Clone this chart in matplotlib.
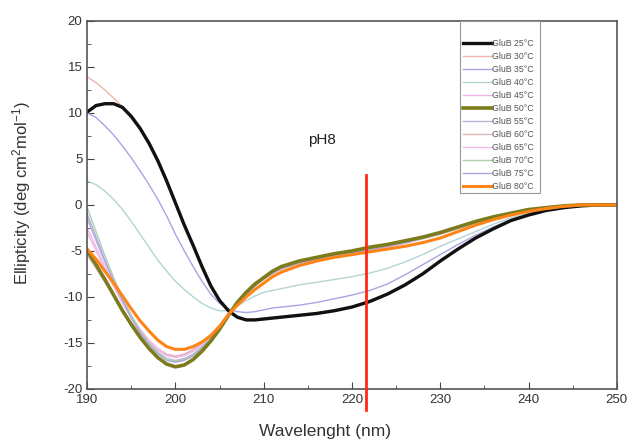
import matplotlib.pyplot as plt
from matplotlib.patches import Rectangle
from matplotlib.ticker import MultipleLocator

plt.rcParams['font.family'] = ['Liberation Sans', 'DejaVu Sans']
plt.rcParams['axes.unicode_minus'] = False
plt.rcParams['mathtext.fontset'] = 'custom'
plt.rcParams['mathtext.rm'] = 'Liberation Sans'
plt.rcParams['mathtext.it'] = 'Liberation Sans:italic'

wl = [190, 191, 192, 193, 194, 195, 196, 197, 198, 199, 200, 201, 202, 203,
      204, 205, 206, 207, 208, 209, 210, 211, 212,
      214, 216, 218, 220, 222, 224, 226, 228, 230, 232, 234, 236, 238, 240,
      242, 244, 246, 248, 250]

t25 = [10.1, 10.8, 11.0, 11.0, 10.6, 9.6, 8.3, 6.7, 4.8, 2.6, 0.2, -2.2, -4.4, -6.7,
       -8.8, -10.4, -11.5, -12.2, -12.5, -12.5, -12.4, -12.3, -12.2,
       -12.0, -11.8, -11.5, -11.1, -10.5, -9.7, -8.7, -7.5, -6.1, -4.8, -3.6, -2.6, -1.7, -1.1,
       -0.6, -0.3, -0.1, 0.0, 0.0]
t30 = [13.9, 13.3, 12.5, 11.6, 10.7, 9.8, 8.5, 6.9, 5.0, 2.8, 0.4, -2.0, -4.2, -6.5,
       -8.6, -10.3, -11.4, -12.1, -12.4, -12.4, -12.3, -12.2, -12.1,
       -11.9, -11.7, -11.4, -11.0, -10.4, -9.6, -8.6, -7.4, -6.0, -4.7, -3.5, -2.5, -1.6, -1.0,
       -0.5, -0.2, 0.0, 0.0, 0.0]
t35 = [10.0, 9.5, 8.6, 7.6, 6.4, 5.1, 3.7, 2.2, 0.6, -1.2, -3.2, -5.0, -6.7, -8.3,
       -9.7, -10.7, -11.3, -11.6, -11.7, -11.6, -11.4, -11.2, -11.1,
       -10.9, -10.6, -10.2, -9.8, -9.3, -8.6, -7.6, -6.5, -5.4, -4.3, -3.3, -2.4, -1.6, -1.0,
       -0.5, -0.2, 0.0, 0.0, 0.0]
t40 = [2.6, 2.2, 1.5, 0.6, -0.5, -1.8, -3.2, -4.6, -6.0, -7.2, -8.3, -9.2, -10.0, -10.7,
       -11.2, -11.5, -11.5, -11.0, -10.4, -9.9, -9.5, -9.3, -9.1,
       -8.7, -8.4, -8.1, -7.8, -7.4, -6.9, -6.2, -5.4, -4.5, -3.7, -2.9, -2.1, -1.4, -0.9,
       -0.5, -0.2, 0.0, 0.0, 0.0]
t45 = [-2.5, -4.6, -6.7, -8.7, -10.5, -12.1, -13.5, -14.7, -15.6, -16.2, -16.4, -16.2, -15.7, -15.0,
       -14.1, -13.1, -11.9, -10.7, -9.6, -8.7, -8.0, -7.4, -6.9,
       -6.3, -5.9, -5.5, -5.2, -4.9, -4.5, -4.1, -3.6, -3.1, -2.5, -1.9, -1.4, -0.9, -0.6,
       -0.3, -0.1, 0.0, 0.0, 0.0]
t50 = [-5.0, -6.5, -8.1, -9.8, -11.5, -13.0, -14.4, -15.6, -16.6, -17.3, -17.6, -17.4, -16.8, -15.9,
       -14.8, -13.5, -12.0, -10.6, -9.5, -8.6, -7.9, -7.2, -6.7,
       -6.1, -5.7, -5.3, -5.0, -4.6, -4.3, -3.9, -3.5, -3.0, -2.4, -1.8, -1.3, -0.9, -0.5,
       -0.3, -0.1, 0.0, 0.0, 0.0]
t55 = [-1.5, -3.9, -6.2, -8.4, -10.4, -12.2, -13.8, -15.1, -16.1, -16.7, -16.9, -16.7, -16.2, -15.4,
       -14.4, -13.2, -11.9, -10.7, -9.6, -8.7, -7.9, -7.3, -6.8,
       -6.2, -5.8, -5.4, -5.1, -4.8, -4.4, -4.0, -3.5, -3.0, -2.4, -1.8, -1.3, -0.9, -0.5,
       -0.3, -0.1, 0.0, 0.0, 0.0]
t60 = [-5.5, -6.9, -8.4, -9.9, -11.4, -12.8, -14.0, -15.0, -15.8, -16.3, -16.5, -16.3, -15.8, -15.1,
       -14.2, -13.1, -11.9, -10.8, -9.7, -8.8, -8.1, -7.5, -7.0,
       -6.4, -6.0, -5.6, -5.3, -5.0, -4.6, -4.2, -3.7, -3.2, -2.6, -2.0, -1.4, -1.0, -0.6,
       -0.3, -0.1, 0.0, 0.0, 0.0]
t65 = [-3.0, -5.0, -7.0, -8.9, -10.7, -12.3, -13.7, -14.9, -15.8, -16.4, -16.6, -16.4, -15.9, -15.2,
       -14.2, -13.1, -11.9, -10.7, -9.7, -8.8, -8.0, -7.4, -6.9,
       -6.3, -5.9, -5.5, -5.2, -4.9, -4.5, -4.1, -3.6, -3.1, -2.5, -1.9, -1.4, -0.9, -0.6,
       -0.3, -0.1, 0.0, 0.0, 0.0]
t70 = [-0.3, -2.9, -5.5, -7.9, -10.1, -12.0, -13.7, -15.0, -16.0, -16.7, -17.0, -16.8, -16.3, -15.5,
       -14.5, -13.3, -12.0, -10.8, -9.7, -8.8, -8.0, -7.4, -6.9,
       -6.2, -5.8, -5.4, -5.1, -4.8, -4.4, -4.0, -3.5, -3.0, -2.4, -1.8, -1.3, -0.9, -0.5,
       -0.3, -0.1, 0.0, 0.0, 0.0]
t75 = [-1.0, -3.5, -6.0, -8.3, -10.4, -12.3, -13.9, -15.2, -16.2, -16.9, -17.1, -16.9, -16.4, -15.6,
       -14.6, -13.4, -12.0, -10.8, -9.7, -8.8, -8.0, -7.4, -6.9,
       -6.3, -5.9, -5.5, -5.2, -4.9, -4.5, -4.1, -3.6, -3.1, -2.5, -1.9, -1.4, -0.9, -0.6,
       -0.3, -0.1, 0.0, 0.0, 0.0]
t80 = [-4.8, -5.9, -7.2, -8.5, -9.9, -11.3, -12.6, -13.7, -14.7, -15.4, -15.7, -15.7, -15.4, -14.9,
       -14.2, -13.2, -11.9, -10.9, -10.0, -9.2, -8.5, -7.8, -7.3,
       -6.6, -6.1, -5.7, -5.4, -5.1, -4.8, -4.5, -4.1, -3.6, -2.9, -2.2, -1.6, -1.1, -0.7,
       -0.4, -0.15, 0.0, 0.0, 0.0]

series = [t25, t30, t35, t40, t45, t50, t55, t60, t65, t70, t75, t80]
labels = ['GluB 25°C', 'GluB 30°C', 'GluB 35°C', 'GluB 40°C', 'GluB 45°C', 'GluB 50°C',
          'GluB 55°C', 'GluB 60°C', 'GluB 65°C', 'GluB 70°C', 'GluB 75°C', 'GluB 80°C']
colors = ['#111111', '#f2b4ac', '#a8a4e4', '#b4d4d4', '#f0b4ec', '#7c7c1c',
          '#b8b4dc', '#dcb8b8', '#f4b8e4', '#acd0ac', '#aca4e0', '#ff8418']
widths = [2.4, 1.0, 1.0, 1.0, 1.0, 2.6, 1.0, 1.0, 1.0, 1.0, 1.0, 2.2]

marker_wl = 221.6
marker_top = 3.2
marker_bottom = -22.3

fig = plt.figure(figsize=(6.32, 4.45), dpi=100)
ax = fig.add_axes([0.138, 0.126, 0.838, 0.827])

# thin curves first, thick ones on top
order = [1, 2, 3, 4, 6, 7, 8, 9, 10, 0, 5, 11]
lines = {}
for i in order:
    ln, = ax.plot(wl, series[i], color=colors[i], lw=widths[i], label=labels[i])
    lines[i] = ln

ax.plot([marker_wl, marker_wl], [marker_top, marker_bottom], color='#ff2a10', lw=2.0,
        clip_on=False, zorder=5)
ax.text(216.6, 7.1, 'pH8', fontsize=11, ha='center', va='center', color='#222222')

ax.set_xlim(190, 250)
ax.set_ylim(-20, 20)
ax.xaxis.set_major_locator(MultipleLocator(10))
ax.xaxis.set_minor_locator(MultipleLocator(5))
ax.yaxis.set_major_locator(MultipleLocator(5))
ax.yaxis.set_minor_locator(MultipleLocator(2.5))
ax.tick_params(which='both', direction='in', colors='#444444', labelcolor='#333333',
               labelsize=9.5)
ax.tick_params(which='major', length=5)
ax.tick_params(which='minor', length=3)
for s in ax.spines.values():
    s.set_color('#555555')
    s.set_linewidth(1.2)

ax.set_xlabel('Wavelenght (nm)', fontsize=12.5, color='#333333')
ax.xaxis.set_label_coords(0.449, -0.095)
ax.set_ylabel('Ellipticity (deg cm$^{2}$mol$^{-1}$)', fontsize=12, color='#333333')
ax.yaxis.set_label_coords(-0.102, 0.533)

# legend frame drawn separately so the box reaches the top of the axes
ax.add_patch(Rectangle((0.704, 0.533), 0.151, 0.467, transform=ax.transAxes,
                       facecolor='white', edgecolor='#999999', lw=0.8, zorder=6))
leg = ax.legend([lines[i] for i in range(12)], labels, loc='upper left',
                bbox_to_anchor=(0.709, 0.952), fontsize=6.3, frameon=False,
                handlelength=3.3, handletextpad=0.05, labelspacing=0.46,
                borderpad=0.0, borderaxespad=0.0)
leg.set_zorder(7)
for t in leg.get_texts():
    t.set_color('#555555')

fig.savefig('out.png', dpi=100)
